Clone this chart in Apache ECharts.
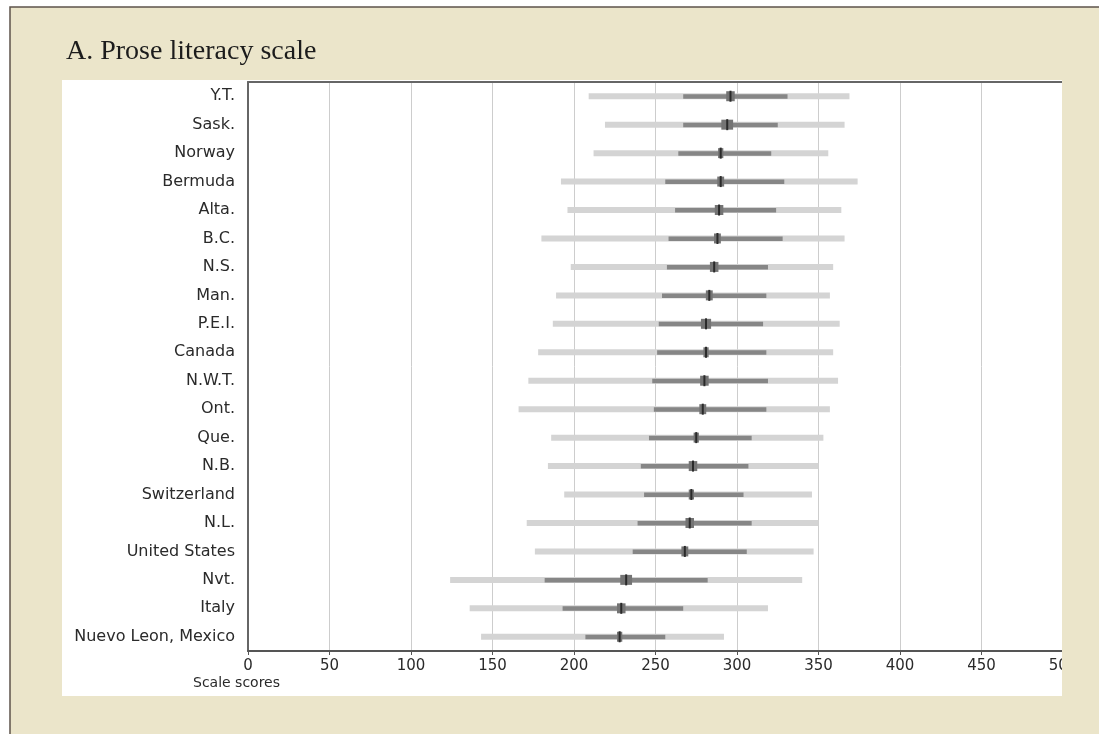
<!DOCTYPE html>
<html>
<head>
<meta charset="utf-8">
<script src="https://cdn.jsdelivr.net/npm/echarts@6/dist/echarts.min.js"></script>
<style>html,body{margin:0;padding:0;background:#fff;}#c{width:1099px;height:734px;}</style>
</head>
<body>
<div id="c"></div>
<script>
const categories = ['Y.T.', 'Sask.', 'Norway', 'Bermuda', 'Alta.', 'B.C.', 'N.S.', 'Man.', 'P.E.I.', 'Canada', 'N.W.T.', 'Ont.', 'Que.', 'N.B.', 'Switzerland', 'N.L.', 'United States', 'Nvt.', 'Italy', 'Nuevo Leon, Mexico'];
const p5   = [209, 219, 212, 192, 196, 180, 198, 189, 187, 178, 172, 166, 186, 184, 194, 171, 176, 124, 136, 143];
const p25  = [267, 267, 264, 256, 262, 258, 257, 254, 252, 251, 248, 249, 246, 241, 243, 239, 236, 182, 193, 207];
const mean = [296, 294, 290, 290, 289, 288, 286, 283, 281, 281, 280, 279, 275, 273, 272, 271, 268, 232, 229, 228];
const p75  = [331, 325, 321, 329, 324, 328, 319, 318, 316, 318, 319, 318, 309, 307, 304, 309, 306, 282, 267, 256];
const p95  = [369, 366, 356, 374, 364, 366, 359, 357, 363, 359, 362, 357, 353, 350, 346, 350, 347, 340, 319, 292];
const ci   = [2, 3, 1, 1.5, 2, 1.5, 2, 1.5, 2.5, 1, 2, 1.5, 1, 2, 1, 2, 1.5, 3, 2, 1];
const xTicks = [0, 50, 100, 150, 200, 250, 300, 350, 400, 450, 500];

const BEIGE = '#ebe5ca';
const data = categories.map((c, i) => [i, p5[i], p25[i], mean[i], p75[i], p95[i], mean[i] - ci[i], mean[i] + ci[i]]);

const chart = echarts.init(document.getElementById('c'), null, {renderer: 'canvas'});
chart.setOption({
  backgroundColor: '#ffffff',
  animation: false,
  title: {
    text: 'A. Prose literacy scale',
    left: 61, top: 33,
    textStyle: {fontFamily: 'Liberation Serif', fontSize: 28, fontWeight: 'normal', color: '#1c1c1c'}
  },
  graphic: [
    {type: 'rect', z: -100, shape: {x: 10, y: 7, width: 1200, height: 800}, style: {fill: BEIGE, stroke: '#5d534b', lineWidth: 1.5}},
    {type: 'rect', z: -90, shape: {x: 62, y: 80, width: 1000, height: 616}, style: {fill: '#ffffff'}},
    {type: 'rect', z: 100, shape: {x: 1062, y: 60, width: 60, height: 660}, style: {fill: BEIGE}},
    {type: 'text', z: 50, left: 193, top: 676, style: {text: 'Scale scores', fontFamily: 'DejaVu Sans', fontSize: 14, fill: '#2a2a2a'}}
  ],
  grid: {left: 248, right: 36, top: 82, bottom: 83, containLabel: false},
  xAxis: [
    {
      type: 'value', min: xTicks[0], max: xTicks[xTicks.length - 1], interval: 50, position: 'bottom',
      axisLine: {show: true, lineStyle: {color: '#555', width: 2}},
      axisTick: {show: true, length: 4, lineStyle: {color: '#555'}},
      axisLabel: {fontFamily: 'DejaVu Sans', fontSize: 15, color: '#2a2a2a', margin: 8},
      splitLine: {show: true, lineStyle: {color: '#cdcdcd', width: 1}}
    },
    {
      type: 'value', min: xTicks[0], max: xTicks[xTicks.length - 1], interval: 50, position: 'top',
      axisLine: {show: true, onZero: false, lineStyle: {color: '#666', width: 2}},
      axisTick: {show: false}, axisLabel: {show: false}, splitLine: {show: false}
    }
  ],
  yAxis: {
    type: 'category', data: categories, inverse: true,
    axisLine: {show: true, lineStyle: {color: '#666', width: 2}},
    axisTick: {show: false},
    axisLabel: {fontFamily: 'DejaVu Sans', fontSize: 16, color: '#2a2a2a', margin: 13},
    splitLine: {show: false}
  },
  series: [{
    type: 'custom',
    xAxisIndex: 0,
    data: data,
    encode: {x: [1, 2, 3, 4, 5, 6, 7], y: 0},
    renderItem: function (params, api) {
      const i = api.value(0);
      const y = api.coord([0, i])[1];
      const x5 = api.coord([api.value(1), i])[0];
      const x25 = api.coord([api.value(2), i])[0];
      const xm = api.coord([api.value(3), i])[0];
      const x75 = api.coord([api.value(4), i])[0];
      const x95 = api.coord([api.value(5), i])[0];
      const xlo = api.coord([api.value(6), i])[0];
      const xhi = api.coord([api.value(7), i])[0];
      return {
        type: 'group',
        children: [
          {type: 'rect', shape: {x: x5, y: y - 3, width: x95 - x5, height: 6}, style: {fill: '#d4d4d4'}},
          {type: 'rect', shape: {x: x25, y: y - 2, width: x75 - x25, height: 4.5}, style: {fill: '#868686'}},
          {type: 'rect', shape: {x: xlo - 1, y: y - 5, width: xhi - xlo + 2, height: 10}, style: {fill: '#747474'}},
          {type: 'rect', shape: {x: xm - 1, y: y - 5.5, width: 2, height: 11}, style: {fill: '#2a2a2a'}}
        ]
      };
    }
  }]
});
</script>
</body>
</html>
